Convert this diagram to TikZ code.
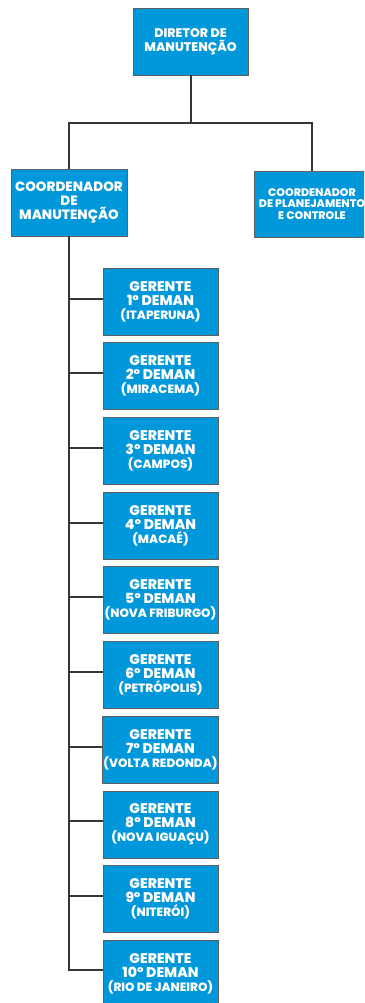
\documentclass[tikz,border=0pt]{standalone}
\usepackage{fontspec}
\setmainfont{Poppins}[BoldFont={* ExtraBold}]
\usetikzlibrary{positioning,calc}
\definecolor{boxblue}{RGB}{0,152,218}
\definecolor{boxedge}{RGB}{95,95,95}
\definecolor{linkgray}{RGB}{55,55,55}
\tikzset{every picture/.style={line width=0.75pt}}
\tikzset{
  cargo/.style={draw=boxedge, fill=boxblue, text=white, align=center,
    minimum width=115pt, minimum height=67pt, inner sep=1pt,
    font=\bfseries\fontsize{14}{14}\selectfont},
  link/.style={draw=linkgray, line width=2pt}
}
\newcommand{\local}[1]{{\fontsize{12}{14}\selectfont #1}}

\begin{document}
\begin{tikzpicture}[x=1pt,y=-1pt]
    \clip (0,0) rectangle (364,1003);
    \fill[white] (0,0) rectangle (364,1003);
    % diretoria
    \node[cargo, font=\bfseries\fontsize{12.5}{13.5}\selectfont] (dir) at (190.5,41.5) {DIRETOR DE\\MANUTENÇÃO};
    % coordenadores
    \node[cargo, minimum width=116pt, font=\bfseries\fontsize{13.5}{14}\selectfont] (cman) at (69,202.5)
      {COORDENADOR\\DE\\MANUTENÇÃO};
    \node[cargo, minimum width=116pt, minimum height=66pt,
      font=\bfseries\fontsize{11}{11.5}\selectfont] (cplan) at (312,204)
      {COORDENADOR\\DE PLANEJAMENTO\\E CONTROLE};
    % gerentes
    \foreach \i/\nome in {1/ITAPERUNA,2/MIRACEMA,3/CAMPOS,4/MACAÉ,5/NOVA FRIBURGO,
        6/PETRÓPOLIS,7/VOLTA REDONDA,8/NOVA IGUAÇU,9/NITERÓI,10/RIO DE JANEIRO}
      \node[cargo] (g\i) at (160.5,{301.5+(\i-1)*74.7}) {GERENTE\\\i º DEMAN\\\local{(\nome)}};
    % ligacoes
    \coordinate (split) at (dir.south |- 0,123);
    \draw[link] (dir.south) -- (split);
    \draw[link] (cman.north) |- (split) -| (cplan.north);
    \draw[link] (cman.south) |- ([yshift=4pt]g10.west);
    \foreach \i in {1,...,9}
      \draw[link] ([yshift=3pt]g\i.west) -- ([yshift=3pt]g\i.west -| cman.south);
\end{tikzpicture}
\end{document}
